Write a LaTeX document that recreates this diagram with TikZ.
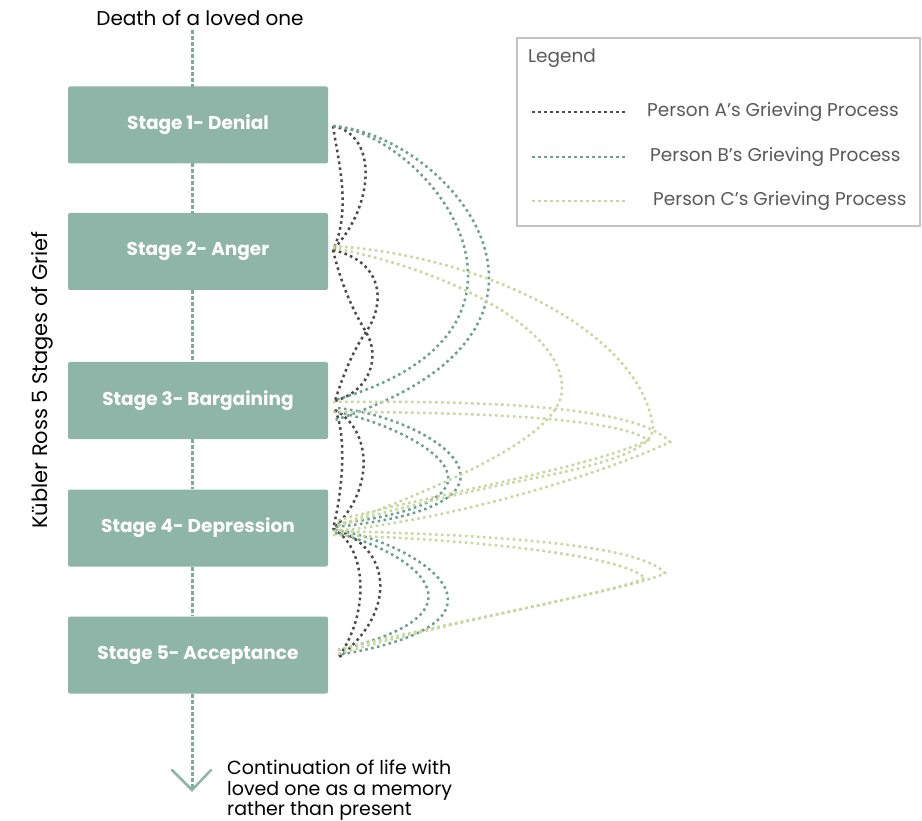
\documentclass[tikz,border=0pt]{standalone}
\usepackage{fontspec}
\setmainfont{Poppins}
\usetikzlibrary{arrows.meta}
\definecolor{stagefill}{HTML}{8FB5A8}
\definecolor{flowline}{HTML}{7FAB9E}
\definecolor{pa}{HTML}{4A4A4A}
\definecolor{pb}{HTML}{6E9E92}
\definecolor{pc}{HTML}{C6D89E}
\definecolor{legtext}{HTML}{595959}
\definecolor{legborder}{HTML}{C4C4C4}
\begin{document}
\begin{tikzpicture}[x=1pt,y=-1pt,
  stagebox/.style={fill=stagefill,draw=none,rounded corners=2pt,minimum width=260pt,minimum height=77pt,
    text=white,font=\bfseries\fontsize{18.5}{21}\selectfont,inner sep=0pt},
  flow/.style={draw=flowline,line width=3pt,dash pattern=on 4pt off 2pt},
  dotline/.style={line width=2.5pt,dash pattern=on 2.6pt off 3.4pt},
  pathA/.style={dotline,draw=pa},
  pathB/.style={dotline,draw=pb},
  pathC/.style={dotline,draw=pc},
  plain/.style={font=\fontsize{19}{20.5}\selectfont,text=black,inner sep=0pt},
  legtxt/.style={font=\fontsize{18.5}{21}\selectfont,text=legtext,anchor=west,inner sep=0pt}
]
\useasboundingbox (0,0) rectangle (922,821);

% stages
\node[stagebox] (s1) at (198,125) {Stage 1- Denial};
\node[stagebox] (s2) at (198,251.5) {Stage 2- Anger};
\node[stagebox] (s3) at (198,400.5) {Stage 3- Bargaining};
\node[stagebox] (s4) at (198,528) {Stage 4- Depression};
\node[stagebox] (s5) at (198,655) {Stage 5- Acceptance};

% top / bottom texts
\node[plain,font=\fontsize{20}{22}\selectfont] (top) at (200,18) {Death of a loved one};
\node[plain,anchor=north west,align=left] (cont) at (227,760) {Continuation of life with\\loved one as a memory\\rather than present};
\node[plain,rotate=90,font=\fontsize{21}{23}\selectfont] (side) at (42,380) {Kübler Ross 5 Stages of Grief};

% main flow line
\coordinate (ftop) at (192,30);
\coordinate (fbot) at (192,790);
\draw[flow] (ftop) -- (192,87);
\draw[flow] (192,163) -- (192,213);
\draw[flow] (192,290) -- (192,362);
\draw[flow] (192,439) -- (192,489);
\draw[flow] (192,567) -- (192,616);
\draw[flow] (192,694) -- (fbot);
\coordinate (chl) at (172,770);
\coordinate (chr) at (211,770);
\draw[draw=stagefill,line width=2.5pt,line cap=round,line join=miter] (chl) -- (fbot) -- (chr);

% endpoints
\coordinate (e1) at (333,126);
\coordinate (e2) at (333,250);
\coordinate (e3) at (335,401);
\coordinate (e3b) at (335,410);
\coordinate (e4) at (333,529);
\coordinate (e5) at (338,658);

% Person A
\draw[pathA] (e1) .. controls (378,135) and (375,205) .. (e2);
\draw[pathA] (e1) .. controls (338,160) and (352,210) .. (e2);
\draw[pathA] (e2) .. controls (385,262) and (385,305) .. (366,332) .. controls (350,355) and (340,385) .. (e3);
\draw[pathA] (e2) .. controls (340,280) and (350,305) .. (366,332) .. controls (380,355) and (372,390) .. (e3);
\draw[pathA] (e3b) .. controls (345,430) and (345,480) .. (e4);
\draw[pathA] (e3b) .. controls (372,430) and (375,490) .. (e4);
\draw[pathA] (e4) .. controls (365,545) and (372,610) .. (e5);
\draw[pathA] (e4) .. controls (390,545) and (400,610) .. (e5);

% Person B
\draw[pathB] (e1) .. controls (430,135) and (580,330) .. (335,400);
\draw[pathB] (e1) .. controls (450,135) and (615,330) .. (335,420);
\draw[pathB] (338,408) .. controls (440,420) and (555,505) .. (335,527);
\draw[pathB] (338,412) .. controls (420,430) and (540,500) .. (335,524);
\draw[pathB] (335,530) .. controls (410,540) and (545,620) .. (338,655);
\draw[pathB] (335,533) .. controls (395,545) and (510,610) .. (338,650);

% Person C
\draw[pathC] (333,248) .. controls (450,270) and (565,330) .. (562,390) .. controls (560,440) and (430,490) .. (335,527);
\draw[pathC] (333,246) .. controls (480,255) and (640,330) .. (653,427) .. controls (655,450) and (600,465) .. (540,477) .. controls (450,495) and (370,515) .. (335,527);
\draw[pathC] (333,402) .. controls (520,400) and (640,410) .. (670,442) .. controls (600,475) and (450,520) .. (335,531);
\draw[pathC] (333,412) .. controls (500,412) and (620,420) .. (648,440) .. controls (590,468) and (430,495) .. (335,521);
\draw[pathC] (333,531) .. controls (500,535) and (640,545) .. (665,573) .. controls (640,588) and (450,620) .. (335,655);
\draw[pathC] (333,535) .. controls (480,540) and (620,555) .. (645,578) .. controls (625,590) and (450,622) .. (337,650);

% legend
\node[draw=legborder,line width=2.5pt,minimum width=403pt,minimum height=188pt,inner sep=0pt] (legend) at (718.5,132) {};
\node[legtxt] (legtitle) at (528,58) {Legend};
\coordinate (la1) at (532,112); \coordinate (la2) at (625,112);
\coordinate (lb1) at (532,157); \coordinate (lb2) at (625,157);
\coordinate (lc1) at (532,201); \coordinate (lc2) at (625,201);
\draw[pathA] (la1) -- (la2);
\draw[pathB] (lb1) -- (lb2);
\draw[pathC] (lc1) -- (lc2);
\node[legtxt] (lta) at (647,112) {Person A’s Grieving Process};
\node[legtxt] (ltb) at (650,157) {Person B’s Grieving Process};
\node[legtxt] (ltc) at (653,201) {Person C’s Grieving Process};
\end{tikzpicture}
\end{document}
